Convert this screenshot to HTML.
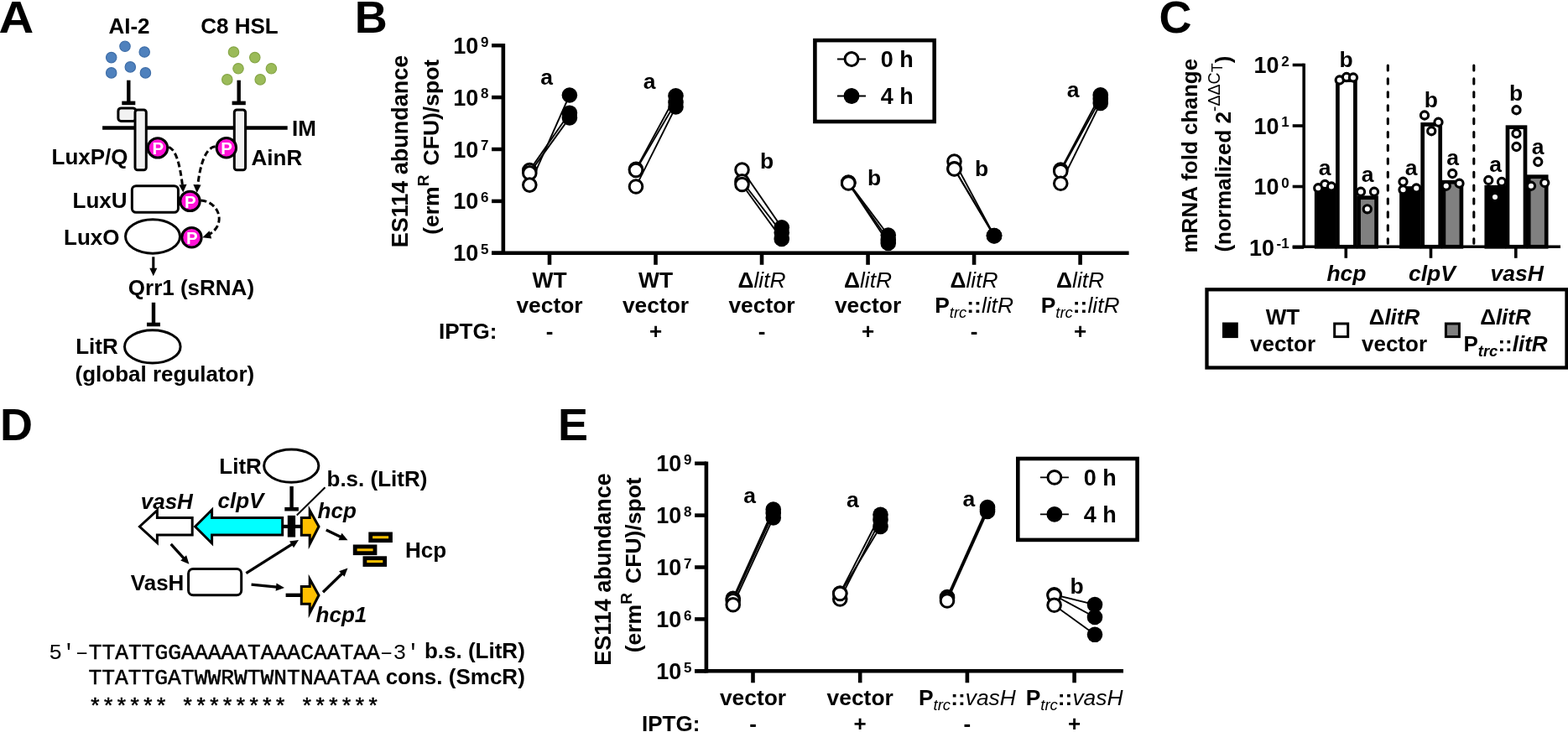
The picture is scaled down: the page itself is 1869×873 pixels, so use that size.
<!DOCTYPE html>
<html><head><meta charset="utf-8"><title>Figure</title>
<style>
html,body{margin:0;padding:0;background:#fff;}
svg{display:block;}
</style></head>
<body>
<svg width="1869" height="873" viewBox="0 0 1869 873" font-family="'Liberation Sans', sans-serif" fill="#000">
<rect x="0" y="0" width="1869" height="873" fill="#fff"/>
<text transform="translate(-1.6,39.2) scale(1.07,1)" font-size="54" font-weight="bold">A</text>
<text x="422.80" y="39.20" font-size="54" text-anchor="start" font-weight="bold" font-style="normal" >B</text>
<text x="1381.50" y="39.30" font-size="54" text-anchor="start" font-weight="bold" font-style="normal" >C</text>
<text x="0.00" y="525.30" font-size="54" text-anchor="start" font-weight="bold" font-style="normal" >D</text>
<text x="665.00" y="525.00" font-size="54" text-anchor="start" font-weight="bold" font-style="normal" >E</text>
<text x="154.00" y="40.00" font-size="26.0" text-anchor="middle" font-weight="bold" font-style="normal" >AI-2</text>
<text x="285.50" y="40.00" font-size="26.0" text-anchor="middle" font-weight="bold" font-style="normal" >C8 HSL</text>
<circle cx="149" cy="55.2" r="6.2" fill="#4f81bd" stroke="#3f6ea8" stroke-width="1.2"/>
<circle cx="172.2" cy="62" r="6.2" fill="#4f81bd" stroke="#3f6ea8" stroke-width="1.2"/>
<circle cx="132.7" cy="68.6" r="6.2" fill="#4f81bd" stroke="#3f6ea8" stroke-width="1.2"/>
<circle cx="155.3" cy="79.9" r="6.2" fill="#4f81bd" stroke="#3f6ea8" stroke-width="1.2"/>
<circle cx="132.7" cy="86.9" r="6.2" fill="#4f81bd" stroke="#3f6ea8" stroke-width="1.2"/>
<circle cx="173.4" cy="86.9" r="6.2" fill="#4f81bd" stroke="#3f6ea8" stroke-width="1.2"/>
<circle cx="278.5" cy="62" r="6.2" fill="#9bbb59" stroke="#86a647" stroke-width="1.2"/>
<circle cx="303.8" cy="68.6" r="6.2" fill="#9bbb59" stroke="#86a647" stroke-width="1.2"/>
<circle cx="284" cy="81.8" r="6.2" fill="#9bbb59" stroke="#86a647" stroke-width="1.2"/>
<circle cx="323.4" cy="81.8" r="6.2" fill="#9bbb59" stroke="#86a647" stroke-width="1.2"/>
<circle cx="270.8" cy="94.9" r="6.2" fill="#9bbb59" stroke="#86a647" stroke-width="1.2"/>
<circle cx="310.2" cy="94.9" r="6.2" fill="#9bbb59" stroke="#86a647" stroke-width="1.2"/>
<line x1="153.30" y1="95.70" x2="153.30" y2="122.90" stroke="#000" stroke-width="4.4" />
<line x1="145.30" y1="122.90" x2="161.30" y2="122.90" stroke="#000" stroke-width="4.6" />
<line x1="284.70" y1="95.70" x2="284.70" y2="122.90" stroke="#000" stroke-width="4.4" />
<line x1="276.60" y1="122.90" x2="292.80" y2="122.90" stroke="#000" stroke-width="4.6" />
<line x1="122.10" y1="152.50" x2="342.70" y2="152.50" stroke="#000" stroke-width="4.5" />
<text x="348.00" y="161.60" font-size="26.0" text-anchor="start" font-weight="bold" font-style="normal" >IM</text>
<rect x="140.9" y="128.9" width="21" height="15.5" rx="3.5" fill="#f2f2f2" stroke="#000" stroke-width="3.0"/>
<rect x="161" y="130.9" width="13.3" height="71.8" rx="3" fill="#f2f2f2" stroke="#000" stroke-width="3.0"/>
<rect x="279.3" y="130.9" width="13.3" height="71.8" rx="3" fill="#f2f2f2" stroke="#000" stroke-width="3.0"/>
<text x="61.50" y="196.30" font-size="26.0" text-anchor="start" font-weight="bold" font-style="normal" >LuxP/Q</text>
<text x="299.50" y="196.50" font-size="26.0" text-anchor="start" font-weight="bold" font-style="normal" >AinR</text>
<path d="M201.2,175.3 C210,179 214.5,196 217.6,222" fill="none" stroke="#000" stroke-width="3" stroke-dasharray="7 3.6"/>
<polygon points="218.3,229.6 213.4,220.6 222.6,219.8" fill="#000"/>
<path d="M256.7,174.7 C245,176 238.5,196 235.6,222" fill="none" stroke="#000" stroke-width="3" stroke-dasharray="7 3.6"/>
<polygon points="234.7,230 230.4,220 239.6,220.6" fill="#000"/>
<path d="M239.3,238.9 C262,241 270,268 249,279.8" fill="none" stroke="#000" stroke-width="3" stroke-dasharray="7 3.6"/>
<polygon points="241.3,283.2 249.6,275.3 252.2,284.4" fill="#000"/>
<circle cx="188" cy="176.4" r="11.7" fill="#ff12d6" stroke="#000" stroke-width="3"/>
<text x="188.30" y="184.10" font-size="20.5" text-anchor="middle" font-weight="bold" font-style="normal" fill="#fff">P</text>
<circle cx="269.85" cy="176.2" r="11.7" fill="#ff12d6" stroke="#000" stroke-width="3"/>
<text x="270.15" y="183.90" font-size="20.5" text-anchor="middle" font-weight="bold" font-style="normal" fill="#fff">P</text>
<rect x="157.35" y="221.65" width="55.1" height="31.6" rx="4.8" fill="#fff" stroke="#000" stroke-width="3.0"/>
<text x="86.50" y="248.20" font-size="26.0" text-anchor="start" font-weight="bold" font-style="normal" >LuxU</text>
<circle cx="226.5" cy="239.9" r="11.7" fill="#ff12d6" stroke="#000" stroke-width="3"/>
<text x="226.80" y="247.60" font-size="20.5" text-anchor="middle" font-weight="bold" font-style="normal" fill="#fff">P</text>
<ellipse cx="182.05" cy="282" rx="32.5" ry="20.2" fill="#fff" stroke="#000" stroke-width="3.0"/>
<text x="76.00" y="292.00" font-size="26.0" text-anchor="start" font-weight="bold" font-style="normal" >LuxO</text>
<circle cx="228.45" cy="283.2" r="11.7" fill="#ff12d6" stroke="#000" stroke-width="3"/>
<text x="228.75" y="290.90" font-size="20.5" text-anchor="middle" font-weight="bold" font-style="normal" fill="#fff">P</text>
<line x1="182.80" y1="306.30" x2="182.80" y2="320.80" stroke="#000" stroke-width="3.1" />
<polygon points="182.80,329.30 178.30,319.80 187.30,319.80" fill="#000"/>
<text x="152.80" y="351.80" font-size="26.0" text-anchor="start" font-weight="bold" font-style="normal" >Qrr1 (sRNA)</text>
<line x1="183.00" y1="360.80" x2="183.00" y2="387.00" stroke="#000" stroke-width="4.4" />
<line x1="175.00" y1="387.00" x2="191.00" y2="387.00" stroke="#000" stroke-width="4.6" />
<ellipse cx="181.8" cy="413.4" rx="33.3" ry="19.7" fill="#fff" stroke="#000" stroke-width="3.0"/>
<text x="90.20" y="422.30" font-size="26.0" text-anchor="start" font-weight="bold" font-style="normal" >LitR</text>
<text x="89.50" y="455.40" font-size="26.0" text-anchor="start" font-weight="bold" font-style="normal" >(global regulator)</text>
<line x1="586.05" y1="54.20" x2="599.85" y2="54.20" stroke="#000" stroke-width="4.5" />
<text x="570.25" y="63.70" font-size="27" text-anchor="end" font-weight="bold" font-style="normal" >10</text>
<text x="572.90" y="55.50" font-size="17" text-anchor="start" font-weight="bold" font-style="normal" >9</text>
<line x1="586.05" y1="116.10" x2="599.85" y2="116.10" stroke="#000" stroke-width="4.5" />
<text x="570.25" y="125.60" font-size="27" text-anchor="end" font-weight="bold" font-style="normal" >10</text>
<text x="572.90" y="117.40" font-size="17" text-anchor="start" font-weight="bold" font-style="normal" >8</text>
<line x1="586.05" y1="178.00" x2="599.85" y2="178.00" stroke="#000" stroke-width="4.5" />
<text x="570.25" y="187.50" font-size="27" text-anchor="end" font-weight="bold" font-style="normal" >10</text>
<text x="572.90" y="179.30" font-size="17" text-anchor="start" font-weight="bold" font-style="normal" >7</text>
<line x1="586.05" y1="239.90" x2="599.85" y2="239.90" stroke="#000" stroke-width="4.5" />
<text x="570.25" y="249.40" font-size="27" text-anchor="end" font-weight="bold" font-style="normal" >10</text>
<text x="572.90" y="241.20" font-size="17" text-anchor="start" font-weight="bold" font-style="normal" >6</text>
<line x1="586.05" y1="301.80" x2="599.85" y2="301.80" stroke="#000" stroke-width="4.5" />
<text x="570.25" y="311.30" font-size="27" text-anchor="end" font-weight="bold" font-style="normal" >10</text>
<text x="572.90" y="303.10" font-size="17" text-anchor="start" font-weight="bold" font-style="normal" >5</text>
<line x1="599.85" y1="51.95" x2="599.85" y2="304.05" stroke="#000" stroke-width="4.6" />
<line x1="586.05" y1="301.80" x2="1345.60" y2="301.80" stroke="#000" stroke-width="4.5" />
<line x1="655.00" y1="301.80" x2="655.00" y2="315.80" stroke="#000" stroke-width="4.6" />
<line x1="781.52" y1="301.80" x2="781.52" y2="315.80" stroke="#000" stroke-width="4.6" />
<line x1="908.04" y1="301.80" x2="908.04" y2="315.80" stroke="#000" stroke-width="4.6" />
<line x1="1034.56" y1="301.80" x2="1034.56" y2="315.80" stroke="#000" stroke-width="4.6" />
<line x1="1161.08" y1="301.80" x2="1161.08" y2="315.80" stroke="#000" stroke-width="4.6" />
<line x1="1287.60" y1="301.80" x2="1287.60" y2="315.80" stroke="#000" stroke-width="4.6" />
<text transform="translate(486,295.3) rotate(-90)" font-size="27" font-weight="bold">ES114 abundance</text>
<text transform="translate(522.5,279.8) rotate(-90)" font-size="26.5" font-weight="bold">(erm<tspan font-size="19" dy="-11.7">R</tspan><tspan dy="11.7" dx="11.2">CFU)/spot</tspan></text>
<line x1="631.30" y1="203.10" x2="678.90" y2="134.70" stroke="#000" stroke-width="1.9" />
<line x1="631.30" y1="206.40" x2="678.90" y2="140.40" stroke="#000" stroke-width="1.9" />
<line x1="631.30" y1="220.60" x2="678.90" y2="113.50" stroke="#000" stroke-width="1.9" />
<circle cx="631.30" cy="203.10" r="7.8" fill="#fff" stroke="#000" stroke-width="3.0"/>
<circle cx="631.30" cy="206.40" r="7.8" fill="#fff" stroke="#000" stroke-width="3.0"/>
<circle cx="631.30" cy="220.60" r="7.8" fill="#fff" stroke="#000" stroke-width="3.0"/>
<circle cx="678.90" cy="134.70" r="9.3" fill="#000"/>
<circle cx="678.90" cy="140.40" r="9.3" fill="#000"/>
<circle cx="678.90" cy="113.50" r="9.3" fill="#000"/>
<line x1="758.00" y1="201.75" x2="805.50" y2="114.25" stroke="#000" stroke-width="1.9" />
<line x1="758.00" y1="203.00" x2="805.50" y2="122.00" stroke="#000" stroke-width="1.9" />
<line x1="758.00" y1="222.50" x2="805.50" y2="127.50" stroke="#000" stroke-width="1.9" />
<circle cx="758.00" cy="201.75" r="7.8" fill="#fff" stroke="#000" stroke-width="3.0"/>
<circle cx="758.00" cy="203.00" r="7.8" fill="#fff" stroke="#000" stroke-width="3.0"/>
<circle cx="758.00" cy="222.50" r="7.8" fill="#fff" stroke="#000" stroke-width="3.0"/>
<circle cx="805.50" cy="114.25" r="9.3" fill="#000"/>
<circle cx="805.50" cy="122.00" r="9.3" fill="#000"/>
<circle cx="805.50" cy="127.50" r="9.3" fill="#000"/>
<line x1="884.50" y1="202.50" x2="931.75" y2="271.25" stroke="#000" stroke-width="1.9" />
<line x1="884.50" y1="216.25" x2="931.75" y2="277.50" stroke="#000" stroke-width="1.9" />
<line x1="884.50" y1="220.00" x2="931.75" y2="285.00" stroke="#000" stroke-width="1.9" />
<circle cx="884.50" cy="202.50" r="7.8" fill="#fff" stroke="#000" stroke-width="3.0"/>
<circle cx="884.50" cy="216.25" r="7.8" fill="#fff" stroke="#000" stroke-width="3.0"/>
<circle cx="884.50" cy="220.00" r="7.8" fill="#fff" stroke="#000" stroke-width="3.0"/>
<circle cx="931.75" cy="271.25" r="9.3" fill="#000"/>
<circle cx="931.75" cy="277.50" r="9.3" fill="#000"/>
<circle cx="931.75" cy="285.00" r="9.3" fill="#000"/>
<line x1="1011.25" y1="217.50" x2="1058.75" y2="280.50" stroke="#000" stroke-width="1.9" />
<line x1="1011.25" y1="218.00" x2="1058.75" y2="286.00" stroke="#000" stroke-width="1.9" />
<line x1="1011.25" y1="218.50" x2="1058.75" y2="290.00" stroke="#000" stroke-width="1.9" />
<circle cx="1011.25" cy="217.50" r="7.8" fill="#fff" stroke="#000" stroke-width="3.0"/>
<circle cx="1011.25" cy="218.00" r="7.8" fill="#fff" stroke="#000" stroke-width="3.0"/>
<circle cx="1011.25" cy="218.50" r="7.8" fill="#fff" stroke="#000" stroke-width="3.0"/>
<circle cx="1058.75" cy="280.50" r="9.3" fill="#000"/>
<circle cx="1058.75" cy="286.00" r="9.3" fill="#000"/>
<circle cx="1058.75" cy="290.00" r="9.3" fill="#000"/>
<line x1="1137.50" y1="192.50" x2="1185.00" y2="281.00" stroke="#000" stroke-width="1.9" />
<line x1="1137.50" y1="201.25" x2="1185.00" y2="281.00" stroke="#000" stroke-width="1.9" />
<line x1="1137.50" y1="201.50" x2="1185.00" y2="281.50" stroke="#000" stroke-width="1.9" />
<circle cx="1137.50" cy="192.50" r="7.8" fill="#fff" stroke="#000" stroke-width="3.0"/>
<circle cx="1137.50" cy="201.25" r="7.8" fill="#fff" stroke="#000" stroke-width="3.0"/>
<circle cx="1137.50" cy="201.50" r="7.8" fill="#fff" stroke="#000" stroke-width="3.0"/>
<circle cx="1185.00" cy="281.00" r="9.3" fill="#000"/>
<circle cx="1185.00" cy="281.00" r="9.3" fill="#000"/>
<circle cx="1185.00" cy="281.50" r="9.3" fill="#000"/>
<line x1="1264.25" y1="202.50" x2="1311.75" y2="113.25" stroke="#000" stroke-width="1.9" />
<line x1="1264.25" y1="204.25" x2="1311.75" y2="118.00" stroke="#000" stroke-width="1.9" />
<line x1="1264.25" y1="218.75" x2="1311.75" y2="123.00" stroke="#000" stroke-width="1.9" />
<circle cx="1264.25" cy="202.50" r="7.8" fill="#fff" stroke="#000" stroke-width="3.0"/>
<circle cx="1264.25" cy="204.25" r="7.8" fill="#fff" stroke="#000" stroke-width="3.0"/>
<circle cx="1264.25" cy="218.75" r="7.8" fill="#fff" stroke="#000" stroke-width="3.0"/>
<circle cx="1311.75" cy="113.25" r="9.3" fill="#000"/>
<circle cx="1311.75" cy="118.00" r="9.3" fill="#000"/>
<circle cx="1311.75" cy="123.00" r="9.3" fill="#000"/>
<text x="651.70" y="100.90" font-size="26.5" text-anchor="middle" font-weight="bold" font-style="normal" >a</text>
<text x="774.00" y="106.20" font-size="26.5" text-anchor="middle" font-weight="bold" font-style="normal" >a</text>
<text x="914.00" y="200.70" font-size="26.5" text-anchor="middle" font-weight="bold" font-style="normal" >b</text>
<text x="1042.00" y="220.70" font-size="26.5" text-anchor="middle" font-weight="bold" font-style="normal" >b</text>
<text x="1170.00" y="209.50" font-size="26.5" text-anchor="middle" font-weight="bold" font-style="normal" >b</text>
<text x="1279.00" y="115.70" font-size="26.5" text-anchor="middle" font-weight="bold" font-style="normal" >a</text>
<rect x="971.4" y="48.1" width="142.3" height="96.9" fill="#fff" stroke="#000" stroke-width="4.6"/>
<line x1="998.00" y1="70.50" x2="1032.00" y2="70.50" stroke="#000" stroke-width="1.9" />
<circle cx="1015.00" cy="70.50" r="7.9" fill="#fff" stroke="#000" stroke-width="3"/>
<text x="1049.80" y="80.00" font-size="27" text-anchor="start" font-weight="bold" font-style="normal" >0 h</text>
<line x1="998.00" y1="114.50" x2="1032.00" y2="114.50" stroke="#000" stroke-width="1.9" />
<circle cx="1015.00" cy="114.50" r="9.4" fill="#000"/>
<text x="1049.80" y="124.00" font-size="27" text-anchor="start" font-weight="bold" font-style="normal" >4 h</text>
<text x="655.00" y="343" font-size="26.4" font-weight="bold" text-anchor="middle">WT</text>
<text x="655.00" y="372.8" font-size="26.4" font-weight="bold" text-anchor="middle">vector</text>
<text x="781.52" y="343" font-size="26.4" font-weight="bold" text-anchor="middle">WT</text>
<text x="781.52" y="372.8" font-size="26.4" font-weight="bold" text-anchor="middle">vector</text>
<text x="908.04" y="343" font-size="26.4" font-weight="bold" text-anchor="middle">Δ<tspan font-weight="normal" font-style="italic">litR</tspan></text>
<text x="908.04" y="372.8" font-size="26.4" font-weight="bold" text-anchor="middle">vector</text>
<text x="1034.56" y="343" font-size="26.4" font-weight="bold" text-anchor="middle">Δ<tspan font-weight="normal" font-style="italic">litR</tspan></text>
<text x="1034.56" y="372.8" font-size="26.4" font-weight="bold" text-anchor="middle">vector</text>
<text x="1161.08" y="343" font-size="26.4" font-weight="bold" text-anchor="middle">Δ<tspan font-weight="normal" font-style="italic">litR</tspan></text>
<text x="1161.08" y="372.8" font-size="26.4" font-weight="bold" text-anchor="middle">P<tspan font-weight="normal" font-style="italic" font-size="18.5" dy="6.1">trc</tspan><tspan dy="-6.1">::</tspan><tspan font-weight="normal" font-style="italic">litR</tspan></text>
<text x="1287.60" y="343" font-size="26.4" font-weight="bold" text-anchor="middle">Δ<tspan font-weight="normal" font-style="italic">litR</tspan></text>
<text x="1287.60" y="372.8" font-size="26.4" font-weight="bold" text-anchor="middle">P<tspan font-weight="normal" font-style="italic" font-size="18.5" dy="6.1">trc</tspan><tspan dy="-6.1">::</tspan><tspan font-weight="normal" font-style="italic">litR</tspan></text>
<text x="523.00" y="404.30" font-size="26.0" text-anchor="start" font-weight="bold" font-style="normal" >IPTG:</text>
<text x="655.00" y="404.30" font-size="26.0" text-anchor="middle" font-weight="bold" font-style="normal" >-</text>
<text x="781.52" y="404.30" font-size="26.0" text-anchor="middle" font-weight="bold" font-style="normal" >+</text>
<text x="908.04" y="404.30" font-size="26.0" text-anchor="middle" font-weight="bold" font-style="normal" >-</text>
<text x="1034.56" y="404.30" font-size="26.0" text-anchor="middle" font-weight="bold" font-style="normal" >+</text>
<text x="1161.08" y="404.30" font-size="26.0" text-anchor="middle" font-weight="bold" font-style="normal" >-</text>
<text x="1287.60" y="404.30" font-size="26.0" text-anchor="middle" font-weight="bold" font-style="normal" >+</text>
<line x1="828.10" y1="552.70" x2="841.90" y2="552.70" stroke="#000" stroke-width="4.5" />
<text x="812.30" y="562.20" font-size="27" text-anchor="end" font-weight="bold" font-style="normal" >10</text>
<text x="814.95" y="554.00" font-size="17" text-anchor="start" font-weight="bold" font-style="normal" >9</text>
<line x1="828.10" y1="614.60" x2="841.90" y2="614.60" stroke="#000" stroke-width="4.5" />
<text x="812.30" y="624.10" font-size="27" text-anchor="end" font-weight="bold" font-style="normal" >10</text>
<text x="814.95" y="615.90" font-size="17" text-anchor="start" font-weight="bold" font-style="normal" >8</text>
<line x1="828.10" y1="676.50" x2="841.90" y2="676.50" stroke="#000" stroke-width="4.5" />
<text x="812.30" y="686.00" font-size="27" text-anchor="end" font-weight="bold" font-style="normal" >10</text>
<text x="814.95" y="677.80" font-size="17" text-anchor="start" font-weight="bold" font-style="normal" >7</text>
<line x1="828.10" y1="738.40" x2="841.90" y2="738.40" stroke="#000" stroke-width="4.5" />
<text x="812.30" y="747.90" font-size="27" text-anchor="end" font-weight="bold" font-style="normal" >10</text>
<text x="814.95" y="739.70" font-size="17" text-anchor="start" font-weight="bold" font-style="normal" >6</text>
<line x1="828.10" y1="800.30" x2="841.90" y2="800.30" stroke="#000" stroke-width="4.5" />
<text x="812.30" y="809.80" font-size="27" text-anchor="end" font-weight="bold" font-style="normal" >10</text>
<text x="814.95" y="801.60" font-size="17" text-anchor="start" font-weight="bold" font-style="normal" >5</text>
<line x1="841.90" y1="550.45" x2="841.90" y2="802.55" stroke="#000" stroke-width="4.6" />
<line x1="828.10" y1="800.30" x2="1339.00" y2="800.30" stroke="#000" stroke-width="4.5" />
<line x1="897.50" y1="800.30" x2="897.50" y2="814.30" stroke="#000" stroke-width="4.6" />
<line x1="1025.20" y1="800.30" x2="1025.20" y2="814.30" stroke="#000" stroke-width="4.6" />
<line x1="1152.90" y1="800.30" x2="1152.90" y2="814.30" stroke="#000" stroke-width="4.6" />
<line x1="1280.60" y1="800.30" x2="1280.60" y2="814.30" stroke="#000" stroke-width="4.6" />
<text transform="translate(727.5,793.8) rotate(-90)" font-size="27" font-weight="bold">ES114 abundance</text>
<text transform="translate(764.3,778.3) rotate(-90)" font-size="26.5" font-weight="bold">(erm<tspan font-size="19" dy="-11.7">R</tspan><tspan dy="11.7" dx="11.2">CFU)/spot</tspan></text>
<line x1="873.75" y1="713.75" x2="921.75" y2="607.50" stroke="#000" stroke-width="1.9" />
<line x1="873.75" y1="716.25" x2="921.75" y2="612.00" stroke="#000" stroke-width="1.9" />
<line x1="873.75" y1="721.25" x2="921.75" y2="617.50" stroke="#000" stroke-width="1.9" />
<circle cx="873.75" cy="713.75" r="7.8" fill="#fff" stroke="#000" stroke-width="3.0"/>
<circle cx="873.75" cy="716.25" r="7.8" fill="#fff" stroke="#000" stroke-width="3.0"/>
<circle cx="873.75" cy="721.25" r="7.8" fill="#fff" stroke="#000" stroke-width="3.0"/>
<circle cx="921.75" cy="607.50" r="9.3" fill="#000"/>
<circle cx="921.75" cy="612.00" r="9.3" fill="#000"/>
<circle cx="921.75" cy="617.50" r="9.3" fill="#000"/>
<line x1="1001.25" y1="714.50" x2="1049.50" y2="620.00" stroke="#000" stroke-width="1.9" />
<line x1="1001.25" y1="707.50" x2="1049.50" y2="613.75" stroke="#000" stroke-width="1.9" />
<line x1="1001.25" y1="708.00" x2="1049.50" y2="628.00" stroke="#000" stroke-width="1.9" />
<circle cx="1001.25" cy="714.50" r="7.8" fill="#fff" stroke="#000" stroke-width="3.0"/>
<circle cx="1001.25" cy="707.50" r="7.8" fill="#fff" stroke="#000" stroke-width="3.0"/>
<circle cx="1001.25" cy="708.00" r="7.8" fill="#fff" stroke="#000" stroke-width="3.0"/>
<circle cx="1049.50" cy="620.00" r="9.3" fill="#000"/>
<circle cx="1049.50" cy="613.75" r="9.3" fill="#000"/>
<circle cx="1049.50" cy="628.00" r="9.3" fill="#000"/>
<line x1="1129.00" y1="712.00" x2="1177.00" y2="605.00" stroke="#000" stroke-width="1.9" />
<line x1="1129.00" y1="714.00" x2="1177.00" y2="607.50" stroke="#000" stroke-width="1.9" />
<line x1="1129.00" y1="716.50" x2="1177.00" y2="610.00" stroke="#000" stroke-width="1.9" />
<circle cx="1129.00" cy="712.00" r="7.8" fill="#fff" stroke="#000" stroke-width="3.0"/>
<circle cx="1129.00" cy="714.00" r="7.8" fill="#fff" stroke="#000" stroke-width="3.0"/>
<circle cx="1129.00" cy="716.50" r="7.8" fill="#fff" stroke="#000" stroke-width="3.0"/>
<circle cx="1177.00" cy="605.00" r="9.3" fill="#000"/>
<circle cx="1177.00" cy="607.50" r="9.3" fill="#000"/>
<circle cx="1177.00" cy="610.00" r="9.3" fill="#000"/>
<line x1="1256.60" y1="709.30" x2="1305.00" y2="721.10" stroke="#000" stroke-width="1.9" />
<line x1="1256.60" y1="710.00" x2="1305.00" y2="736.00" stroke="#000" stroke-width="1.9" />
<line x1="1256.60" y1="721.70" x2="1305.00" y2="756.80" stroke="#000" stroke-width="1.9" />
<circle cx="1256.60" cy="709.30" r="7.8" fill="#fff" stroke="#000" stroke-width="3.0"/>
<circle cx="1256.60" cy="710.00" r="7.8" fill="#fff" stroke="#000" stroke-width="3.0"/>
<circle cx="1256.60" cy="721.70" r="7.8" fill="#fff" stroke="#000" stroke-width="3.0"/>
<circle cx="1305.00" cy="721.10" r="9.3" fill="#000"/>
<circle cx="1305.00" cy="736.00" r="9.3" fill="#000"/>
<circle cx="1305.00" cy="756.80" r="9.3" fill="#000"/>
<text x="893.50" y="599.50" font-size="26.5" text-anchor="middle" font-weight="bold" font-style="normal" >a</text>
<text x="1016.30" y="604.50" font-size="26.5" text-anchor="middle" font-weight="bold" font-style="normal" >a</text>
<text x="1154.80" y="604.20" font-size="26.5" text-anchor="middle" font-weight="bold" font-style="normal" >a</text>
<text x="1283.50" y="707.70" font-size="26.5" text-anchor="middle" font-weight="bold" font-style="normal" >b</text>
<rect x="1213.3" y="547" width="142.3" height="96.9" fill="#fff" stroke="#000" stroke-width="4.6"/>
<line x1="1239.90" y1="569.40" x2="1273.90" y2="569.40" stroke="#000" stroke-width="1.9" />
<circle cx="1256.90" cy="569.40" r="7.9" fill="#fff" stroke="#000" stroke-width="3"/>
<text x="1291.70" y="578.90" font-size="27" text-anchor="start" font-weight="bold" font-style="normal" >0 h</text>
<line x1="1239.90" y1="613.40" x2="1273.90" y2="613.40" stroke="#000" stroke-width="1.9" />
<circle cx="1256.90" cy="613.40" r="9.4" fill="#000"/>
<text x="1291.70" y="622.90" font-size="27" text-anchor="start" font-weight="bold" font-style="normal" >4 h</text>
<text x="897.5" y="840.9" font-size="26.4" font-weight="bold" text-anchor="middle">vector</text>
<text x="897.50" y="871.50" font-size="26.0" text-anchor="middle" font-weight="bold" font-style="normal" >-</text>
<text x="1025.2" y="840.9" font-size="26.4" font-weight="bold" text-anchor="middle">vector</text>
<text x="1025.20" y="871.50" font-size="26.0" text-anchor="middle" font-weight="bold" font-style="normal" >+</text>
<text x="1152.9" y="840.9" font-size="26.4" font-weight="bold" text-anchor="middle">P<tspan font-weight="normal" font-style="italic" font-size="18.5" dy="6.1">trc</tspan><tspan dy="-6.1">::</tspan><tspan font-weight="normal" font-style="italic">vasH</tspan></text>
<text x="1152.90" y="871.50" font-size="26.0" text-anchor="middle" font-weight="bold" font-style="normal" >-</text>
<text x="1280.6" y="840.9" font-size="26.4" font-weight="bold" text-anchor="middle">P<tspan font-weight="normal" font-style="italic" font-size="18.5" dy="6.1">trc</tspan><tspan dy="-6.1">::</tspan><tspan font-weight="normal" font-style="italic">vasH</tspan></text>
<text x="1280.60" y="871.50" font-size="26.0" text-anchor="middle" font-weight="bold" font-style="normal" >+</text>
<text x="765.00" y="871.50" font-size="26.0" text-anchor="start" font-weight="bold" font-style="normal" >IPTG:</text>
<line x1="1540.70" y1="77.50" x2="1554.20" y2="77.50" stroke="#000" stroke-width="3.6" />
<text x="1524.60" y="87.00" font-size="27" text-anchor="end" font-weight="bold" font-style="normal" >10</text>
<text x="1527.25" y="78.80" font-size="17" text-anchor="start" font-weight="bold" font-style="normal" >2</text>
<line x1="1540.70" y1="150.00" x2="1554.20" y2="150.00" stroke="#000" stroke-width="3.6" />
<text x="1524.60" y="159.50" font-size="27" text-anchor="end" font-weight="bold" font-style="normal" >10</text>
<text x="1527.25" y="151.30" font-size="17" text-anchor="start" font-weight="bold" font-style="normal" >1</text>
<line x1="1540.70" y1="222.50" x2="1554.20" y2="222.50" stroke="#000" stroke-width="3.6" />
<text x="1524.60" y="232.00" font-size="27" text-anchor="end" font-weight="bold" font-style="normal" >10</text>
<text x="1527.25" y="223.80" font-size="17" text-anchor="start" font-weight="bold" font-style="normal" >0</text>
<line x1="1540.70" y1="295.00" x2="1554.20" y2="295.00" stroke="#000" stroke-width="3.6" />
<text x="1518.94" y="304.50" font-size="27" text-anchor="end" font-weight="bold" font-style="normal" >10</text>
<text x="1521.59" y="296.30" font-size="17" text-anchor="start" font-weight="bold" font-style="normal" >-1</text>
<line x1="1554.20" y1="75.70" x2="1554.20" y2="295.00" stroke="#000" stroke-width="3.6" />
<line x1="1540.70" y1="294.30" x2="1860.00" y2="294.30" stroke="#000" stroke-width="3.6" />
<line x1="1604.30" y1="294.30" x2="1604.30" y2="307.80" stroke="#000" stroke-width="3.6" />
<line x1="1705.50" y1="294.30" x2="1705.50" y2="307.80" stroke="#000" stroke-width="3.6" />
<line x1="1806.80" y1="294.30" x2="1806.80" y2="307.80" stroke="#000" stroke-width="3.6" />
<line x1="1654.30" y1="78.00" x2="1654.30" y2="290.30" stroke="#000" stroke-width="3.1" stroke-dasharray="6 9.9" stroke-linecap="round"/>
<line x1="1756.80" y1="78.00" x2="1756.80" y2="290.30" stroke="#000" stroke-width="3.1" stroke-dasharray="6 9.9" stroke-linecap="round"/>
<rect x="1569.20" y="224.50" width="21.00" height="69.80" fill="#000" stroke="#000" stroke-width="4.7"/>
<rect x="1594.40" y="95.70" width="21.00" height="198.60" fill="#fff" stroke="#000" stroke-width="4.7"/>
<rect x="1619.60" y="235.70" width="21.00" height="58.60" fill="#808080" stroke="#000" stroke-width="4.7"/>
<rect x="1670.50" y="224.50" width="21.00" height="69.80" fill="#000" stroke="#000" stroke-width="4.7"/>
<rect x="1695.70" y="148.40" width="21.00" height="145.90" fill="#fff" stroke="#000" stroke-width="4.7"/>
<rect x="1720.90" y="217.20" width="21.00" height="77.10" fill="#808080" stroke="#000" stroke-width="4.7"/>
<rect x="1771.80" y="223.20" width="21.00" height="71.10" fill="#000" stroke="#000" stroke-width="4.7"/>
<rect x="1797.00" y="151.70" width="21.00" height="142.60" fill="#fff" stroke="#000" stroke-width="4.7"/>
<rect x="1822.20" y="210.70" width="21.00" height="83.60" fill="#808080" stroke="#000" stroke-width="4.7"/>
<circle cx="1571.25" cy="224.25" r="4.6" fill="#fff" stroke="#000" stroke-width="3.1"/>
<circle cx="1579.25" cy="220" r="4.6" fill="#fff" stroke="#000" stroke-width="3.1"/>
<circle cx="1587" cy="222.5" r="4.6" fill="#fff" stroke="#000" stroke-width="3.1"/>
<circle cx="1596.75" cy="95.5" r="4.6" fill="#fff" stroke="#000" stroke-width="3.1"/>
<circle cx="1605" cy="92" r="4.6" fill="#fff" stroke="#000" stroke-width="3.1"/>
<circle cx="1613" cy="92.5" r="4.6" fill="#fff" stroke="#000" stroke-width="3.1"/>
<circle cx="1622" cy="228.75" r="4.6" fill="#fff" stroke="#000" stroke-width="3.1"/>
<circle cx="1638" cy="228.75" r="4.6" fill="#fff" stroke="#000" stroke-width="3.1"/>
<circle cx="1629.8" cy="249.3" r="4.6" fill="#fff" stroke="#000" stroke-width="3.1"/>
<circle cx="1672.5" cy="216.75" r="4.6" fill="#fff" stroke="#000" stroke-width="3.1"/>
<circle cx="1672.5" cy="226.25" r="4.6" fill="#fff" stroke="#000" stroke-width="3.1"/>
<circle cx="1688.25" cy="224.5" r="4.6" fill="#fff" stroke="#000" stroke-width="3.1"/>
<circle cx="1698" cy="137.5" r="4.6" fill="#fff" stroke="#000" stroke-width="3.1"/>
<circle cx="1714.5" cy="145.75" r="4.6" fill="#fff" stroke="#000" stroke-width="3.1"/>
<circle cx="1706.25" cy="156.25" r="4.6" fill="#fff" stroke="#000" stroke-width="3.1"/>
<circle cx="1731.25" cy="207" r="4.6" fill="#fff" stroke="#000" stroke-width="3.1"/>
<circle cx="1723.75" cy="221.75" r="4.6" fill="#fff" stroke="#000" stroke-width="3.1"/>
<circle cx="1739.5" cy="218.75" r="4.6" fill="#fff" stroke="#000" stroke-width="3.1"/>
<circle cx="1774.25" cy="215" r="4.6" fill="#fff" stroke="#000" stroke-width="3.1"/>
<circle cx="1790" cy="217" r="4.6" fill="#fff" stroke="#000" stroke-width="3.1"/>
<circle cx="1782" cy="235" r="4.6" fill="#fff" stroke="#000" stroke-width="3.1"/>
<circle cx="1807.5" cy="131.25" r="4.6" fill="#fff" stroke="#000" stroke-width="3.1"/>
<circle cx="1807.5" cy="159.25" r="4.6" fill="#fff" stroke="#000" stroke-width="3.1"/>
<circle cx="1807.5" cy="175" r="4.6" fill="#fff" stroke="#000" stroke-width="3.1"/>
<circle cx="1833.25" cy="193" r="4.6" fill="#fff" stroke="#000" stroke-width="3.1"/>
<circle cx="1825" cy="221.75" r="4.6" fill="#fff" stroke="#000" stroke-width="3.1"/>
<circle cx="1841.25" cy="218" r="4.6" fill="#fff" stroke="#000" stroke-width="3.1"/>
<text x="1604.50" y="80.30" font-size="26.5" text-anchor="middle" font-weight="bold" font-style="normal" >b</text>
<text x="1579.00" y="208.50" font-size="26.5" text-anchor="middle" font-weight="bold" font-style="normal" >a</text>
<text x="1630.00" y="216.50" font-size="26.5" text-anchor="middle" font-weight="bold" font-style="normal" >a</text>
<text x="1705.80" y="127.80" font-size="26.5" text-anchor="middle" font-weight="bold" font-style="normal" >b</text>
<text x="1682.00" y="208.50" font-size="26.5" text-anchor="middle" font-weight="bold" font-style="normal" >a</text>
<text x="1731.70" y="196.50" font-size="26.5" text-anchor="middle" font-weight="bold" font-style="normal" >a</text>
<text x="1807.00" y="120.30" font-size="26.5" text-anchor="middle" font-weight="bold" font-style="normal" >b</text>
<text x="1782.70" y="205.30" font-size="26.5" text-anchor="middle" font-weight="bold" font-style="normal" >a</text>
<text x="1833.00" y="184.00" font-size="26.5" text-anchor="middle" font-weight="bold" font-style="normal" >a</text>
<text x="1605.00" y="334.50" font-size="26.5" text-anchor="middle" font-weight="bold" font-style="italic" >hcp</text>
<text x="1707.00" y="334.50" font-size="26.5" text-anchor="middle" font-weight="bold" font-style="italic" >clpV</text>
<text x="1808.30" y="334.50" font-size="26.5" text-anchor="middle" font-weight="bold" font-style="italic" >vasH</text>
<text transform="translate(1427,301.5) rotate(-90)" font-size="26.0" font-weight="bold">mRNA fold change</text>
<text transform="translate(1467,300.6) rotate(-90)" font-size="26.0" font-weight="bold">(normalized 2<tspan font-size="19.5" dy="-13" font-weight="normal">-ΔΔC</tspan><tspan font-size="18" dy="3" font-weight="normal">T</tspan><tspan dy="10">)</tspan></text>
<rect x="1438.5" y="345.3" width="429" height="93.2" fill="#fff" stroke="#000" stroke-width="4.3"/>
<rect x="1457" y="384.5" width="18.8" height="18.6" fill="#000"/>
<rect x="1590.7" y="386" width="16" height="15.6" fill="#fff" stroke="#000" stroke-width="3"/>
<rect x="1723.4" y="386" width="16" height="15.6" fill="#808080" stroke="#000" stroke-width="3"/>
<text x="1529" y="386.8" font-size="26.0" font-weight="bold" text-anchor="middle">WT</text>
<text x="1529" y="418.5" font-size="26.0" font-weight="bold" text-anchor="middle">vector</text>
<text x="1662" y="386.8" font-size="26.0" font-weight="bold" text-anchor="middle">Δ<tspan font-style="italic">litR</tspan></text>
<text x="1662" y="418.5" font-size="26.0" font-weight="bold" text-anchor="middle">vector</text>
<text x="1794.5" y="386.8" font-size="26.0" font-weight="bold" text-anchor="middle">Δ<tspan font-style="italic">litR</tspan></text>
<text x="1794.5" y="418.5" font-size="26.0" font-weight="bold" text-anchor="middle">P<tspan font-style="italic" font-size="18.5" dy="6.1">trc</tspan><tspan dy="-6.1">::</tspan><tspan font-style="italic">litR</tspan></text>
<ellipse cx="347.25" cy="555.6" rx="32.6" ry="19.6" fill="#fff" stroke="#000" stroke-width="3.0"/>
<text x="261.30" y="565.20" font-size="26.0" text-anchor="start" font-weight="bold" font-style="normal" >LitR</text>
<line x1="347.60" y1="580.00" x2="347.60" y2="607.20" stroke="#000" stroke-width="4.4" />
<line x1="339.30" y1="607.20" x2="355.90" y2="607.20" stroke="#000" stroke-width="4.6" />
<line x1="387.50" y1="581.30" x2="353.80" y2="614.50" stroke="#000" stroke-width="2.0" />
<text x="389.50" y="580.30" font-size="26.0" text-anchor="start" font-weight="bold" font-style="normal" >b.s. (LitR)</text>
<polygon points="166.4,628 187.4,608.6 187.4,617.4 229.2,617.4 229.2,638.1 187.4,638.1 187.4,647.4" fill="#fff" stroke="#000" stroke-width="3.0" stroke-linejoin="miter" stroke-miterlimit="10"/>
<polygon points="232.6,628 252.6,608 252.6,617.4 336.7,617.4 336.7,638.1 252.6,638.1 252.6,648" fill="#00ffff" stroke="#000" stroke-width="3.0" stroke-linejoin="miter" stroke-miterlimit="10"/>
<line x1="336.70" y1="627.90" x2="359.30" y2="627.90" stroke="#000" stroke-width="4.2" />
<rect x="342.8" y="614.8" width="9.3" height="25.8" fill="#000"/>
<polygon points="359.3,617.4 369.2,617.4 369.2,608.5 380,628 369.2,649 369.2,638.3 359.3,638.3" fill="#ffc000" stroke="#000" stroke-width="3.0" stroke-linejoin="miter" stroke-miterlimit="10"/>
<text x="198.80" y="607.20" font-size="26.0" text-anchor="middle" font-weight="bold" font-style="italic" >vasH</text>
<text x="287.00" y="606.20" font-size="26.0" text-anchor="middle" font-weight="bold" font-style="italic" >clpV</text>
<text x="378.60" y="617.70" font-size="26.0" text-anchor="start" font-weight="bold" font-style="italic" >hcp</text>
<rect x="224.6" y="678.4" width="63.1" height="31.4" rx="5.5" fill="#fff" stroke="#000" stroke-width="3.0"/>
<text x="155.80" y="704.00" font-size="26.0" text-anchor="start" font-weight="bold" font-style="normal" >VasH</text>
<line x1="203.70" y1="648.80" x2="219.35" y2="666.04" stroke="#000" stroke-width="3.3" />
<polygon points="225.40,672.70 215.24,668.42 222.12,662.17" fill="#000"/>
<line x1="293.40" y1="683.60" x2="348.39" y2="648.90" stroke="#000" stroke-width="3.3" />
<polygon points="356.00,644.10 350.02,653.37 345.06,645.50" fill="#000"/>
<line x1="299.60" y1="697.20" x2="330.04" y2="700.14" stroke="#000" stroke-width="3.3" />
<polygon points="339.00,701.00 328.60,704.67 329.49,695.41" fill="#000"/>
<line x1="340.60" y1="709.80" x2="359.30" y2="709.80" stroke="#000" stroke-width="4.4" />
<polygon points="359.3,699.4 369.2,699.4 369.2,690.5 380,710 369.2,731 369.2,720.3 359.3,720.3" fill="#ffc000" stroke="#000" stroke-width="3.0" stroke-linejoin="miter" stroke-miterlimit="10"/>
<text x="376.60" y="741.50" font-size="26.0" text-anchor="start" font-weight="bold" font-style="italic" >hcp1</text>
<line x1="388.80" y1="632.00" x2="406.38" y2="640.41" stroke="#000" stroke-width="3.3" />
<polygon points="414.50,644.30 403.47,644.18 407.49,635.79" fill="#000"/>
<line x1="385.00" y1="706.30" x2="408.06" y2="683.79" stroke="#000" stroke-width="3.3" />
<polygon points="414.50,677.50 410.59,687.81 404.10,681.16" fill="#000"/>
<rect x="441.7" y="636.9" width="23.8" height="7.8" fill="#ffc000" stroke="#000" stroke-width="4.8"/>
<rect x="423.2" y="651.9" width="23.8" height="7.8" fill="#ffc000" stroke="#000" stroke-width="4.8"/>
<rect x="434.9" y="665.6999999999999" width="23.8" height="7.8" fill="#ffc000" stroke="#000" stroke-width="4.8"/>
<text x="483.00" y="664.70" font-size="26.0" text-anchor="start" font-weight="bold" font-style="normal" >Hcp</text>
<text x="58.3" y="785.5" font-size="26.3" font-family="'Liberation Mono', monospace" font-weight="normal" xml:space="preserve">5′–<tspan font-weight="normal" stroke="#000" stroke-width="0.55">TTATTGGAAAAATAAACAATAA</tspan>–3′</text>
<text x="105.4" y="816.3" font-size="26.3" font-family="'Liberation Mono', monospace" font-weight="normal" stroke="#000" stroke-width="0.55">TTATTGATWWRWTWNTNAATAA</text>
<text x="105.4" y="851" font-size="26.3" font-family="'Liberation Mono', monospace" font-weight="normal" stroke="#000" stroke-width="0.55" xml:space="preserve">****** ******** ******</text>
<text x="625.80" y="785.00" font-size="26.0" text-anchor="end" font-weight="bold" font-style="normal" >b.s. (LitR)</text>
<text x="625.80" y="816.30" font-size="26.0" text-anchor="end" font-weight="bold" font-style="normal" >cons. (SmcR)</text>
</svg>
</body></html>
